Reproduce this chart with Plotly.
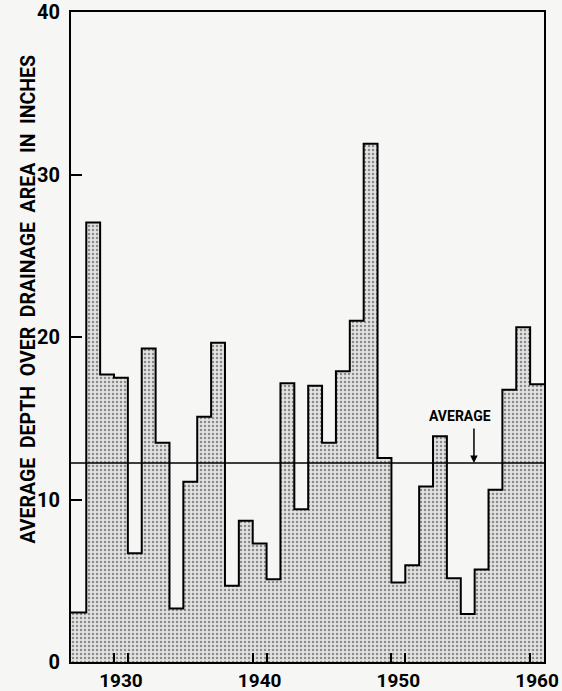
import plotly.graph_objects as go

# ---- data ----
years = list(range(1927, 1961))
depth = [3.05, 27.05, 17.7, 17.5, 6.7, 19.3, 13.5, 3.3, 11.1, 15.1,
         19.65, 4.7, 8.7, 7.3, 5.1, 17.15, 9.4, 17.0, 13.5, 17.9,
         21.0, 31.9, 12.55, 4.9, 5.95, 10.8, 13.9, 5.15, 2.95, 5.7,
         10.6, 16.75, 20.6, 17.1]
average_depth = 12.25
decade_labels = [1930, 1940, 1950, 1960]
y_ticks = [0, 10, 20, 30, 40]
y_title = "AVERAGE  DEPTH  OVER  DRAINAGE  AREA  IN  INCHES"

FONT = "Roboto, sans-serif"
BG = "#f6f6f4"

x_min, x_max = 1926.4, years[-1] + 0.5

# step edges: each bar covers year-0.5 .. year+0.5
xs = [x_min] + [y + 0.5 for y in years[:-1]] + [x_max]
ys = depth + [depth[-1]]

fig = go.Figure()
fig.add_trace(go.Scatter(
    x=xs, y=ys, mode="lines", line=dict(shape="hv", color="black", width=2),
    fill="tozeroy", fillcolor="#dcdcdc",
    fillpattern=dict(shape=".", bgcolor="#e3e3e3", fgcolor="#8a8a8a",
                     size=4, solidity=0.3, fillmode="replace"),
    hoverinfo="skip", showlegend=False,
))

# average line
fig.add_shape(type="line", xref="paper", x0=0, x1=1, yref="y",
              y0=average_depth, y1=average_depth,
              line=dict(color="black", width=1.5))

# AVERAGE label and arrow
fig.add_annotation(x=1954.42, y=15.14, xref="x", yref="y", text="<b>AVERAGE</b>",
                   showarrow=False, font=dict(family=FONT, size=14, color="black"))
fig.add_annotation(x=1955.45, y=average_depth, xref="x", yref="y", text="",
                   showarrow=True, ax=0, ay=-36, axref="pixel", ayref="pixel",
                   arrowhead=2, arrowsize=1, arrowwidth=1.5, arrowcolor="black",
                   standoff=0)

# y axis title as a rotated annotation
fig.add_annotation(x=-43 / 473, y=0.5577, xref="paper", yref="paper",
                   text=f"<b>{y_title}</b>", textangle=-90, showarrow=False,
                   xanchor="center", yanchor="middle",
                   font=dict(family=FONT, size=19.5, color="black"))

minor_ticks = []
for d in decade_labels:
    minor_ticks += [d - 0.5, d + 0.5]
minor_ticks = [t for t in minor_ticks if t < x_max]

fig.update_xaxes(
    range=[x_min, x_max], tickmode="array", tickvals=decade_labels,
    ticktext=[f"<b>{d}</b>" for d in decade_labels],
    ticks="", showgrid=False, zeroline=False, automargin=False,
    showline=True, mirror=True, linecolor="black", linewidth=2,
    tickfont=dict(family=FONT, size=19, color="black"),
    minor=dict(tickmode="array", tickvals=minor_ticks, ticks="inside",
               ticklen=9, tickwidth=1.5, tickcolor="black", showgrid=False),
)
fig.update_yaxes(
    range=[0, 40], tickmode="array", tickvals=y_ticks,
    ticktext=[f"<b>{t}</b>\u00a0" for t in y_ticks],
    ticks="inside", ticklen=11, tickwidth=1.5, tickcolor="black",
    automargin=False,
    showgrid=False, zeroline=False,
    showline=True, mirror=True, linecolor="black", linewidth=2,
    tickfont=dict(family=FONT, size=20, color="black"),
)

fig.update_layout(
    width=562, height=691,
    margin=dict(l=71, r=18, t=12, b=29),
    paper_bgcolor=BG, plot_bgcolor=BG,
)

fig.write_html("out.html", config={"displayModeBar": False},
               post_script="document.body.style.margin='0';")
